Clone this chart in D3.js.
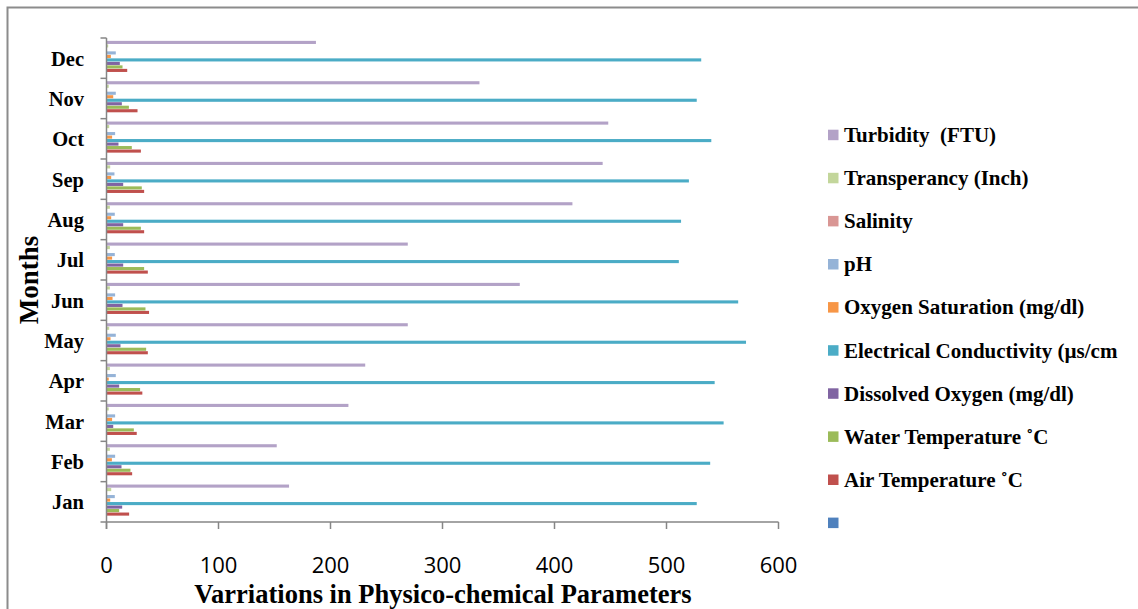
<!DOCTYPE html>
<html><head><meta charset="utf-8">
<script src="https://cdn.jsdelivr.net/npm/d3@7"></script>
<style>html,body{margin:0;padding:0;background:#fff;}svg{display:block;}text{white-space:pre;}</style>
</head><body>
<svg id="chart" width="1138" height="609"></svg>
<script>
const months = ["Jan","Feb","Mar","Apr","May","Jun","Jul","Aug","Sep","Oct","Nov","Dec"];
const seriesNames = ["", "Air Temperature \u02daC", "Water Temperature \u02daC", "Dissolved Oxygen (mg/dl)", "Electrical Conductivity (\u00b5s/cm", "Oxygen Saturation (mg/dl)", "pH", "Salinity", "Transperancy (Inch)", "Turbidity  (FTU)"];
const seriesColors = ["#4F81BD","#C0504D","#9BBB59","#8064A2","#4BACC6","#F79646","#95B3D7","#D99694","#C3D69B","#B3A2C7"];
const blankSeries      = [0,0,0,0,0,0,0,0,0,0,0,0];
const airTemp          = [20.2,22.9,27,32,36.9,38,36.9,33.6,33.6,30.7,27.7,18.5];
const waterTemp        = [11.3,21.4,24.4,30,35.4,34.8,33.6,30.7,31.5,22.6,20,14.3];
const dissolvedOxygen  = [14,13.4,6,11.3,12.5,14.3,14.9,14.9,14.9,10.7,13.7,11.9];
const conductivity     = [527,539,551,543,571,564,511,513,520,540,527,531];
const oxygenSaturation = [3.3,4.8,5,2,3.6,5.4,5,4.2,4.2,5,6,3.9];
const pH               = [7.4,7.7,7.7,8.3,8.3,7.7,7.4,7.4,7.1,7.7,8.3,8.3];
const salinity         = [0.2,0.2,0.2,0.2,0.2,0.2,0.2,0.2,0.2,0.2,0.2,0.2];
const transparency     = [4.2,3,2,3,2.4,3,3,3,3.3,2.4,2,1.5];
const turbidity        = [163,152,216,231,269,369,269,416,443,448,333,187];
const xTicks = [0,100,200,300,400,500,600];

const seriesValues = [blankSeries, airTemp, waterTemp, dissolvedOxygen, conductivity, oxygenSaturation, pH, salinity, transparency, turbidity];

const svg = d3.select("#chart");
const axisColor = "#868686";
const serif = "'Liberation Serif','Times New Roman',serif";

// outer frame
svg.append("rect").attr("x",7.5).attr("y",7.5).attr("width",1200).attr("height",700)
  .attr("fill","none").attr("stroke","#8c8c8c").attr("stroke-width",2);

const plotLeft = 106.5, plotRight = 778.5, plotTop = 38, plotBottom = 522;
const x = d3.scaleLinear().domain([0,600]).range([plotLeft,plotRight]);
const y = d3.scaleBand().domain(months.slice().reverse()).range([plotTop,plotBottom]).padding(0);
const bw = y.bandwidth();
const gap = bw*0.1325;
const inner = d3.scaleBand().domain(d3.range(10).reverse()).range([gap/2, bw-gap/2]).padding(0);

// bars
const g = svg.append("g");
months.forEach((m,mi)=>{
  seriesValues.forEach((vals,si)=>{
    g.append("rect")
      .attr("x", x(0))
      .attr("y", y(m)+inner(si)+0.2)
      .attr("width", Math.max(0, x(vals[mi])-x(0)))
      .attr("height", inner.bandwidth()-0.4)
      .attr("fill", seriesColors[si]);
  });
});

// y axis
const yAxisG = svg.append("g");
yAxisG.append("line").attr("x1",plotLeft).attr("x2",plotLeft).attr("y1",plotTop).attr("y2",plotBottom+7)
  .attr("stroke",axisColor).attr("stroke-width",1.5);
const boundaries = months.slice().reverse().map(m=>y(m)).concat([plotBottom]);
boundaries.forEach(b=>{
  yAxisG.append("line").attr("x1",plotLeft-6).attr("x2",plotLeft).attr("y1",b).attr("y2",b)
    .attr("stroke",axisColor).attr("stroke-width",1.5);
});
months.forEach(m=>{
  yAxisG.append("text").attr("x",84).attr("y",y(m)+bw/2+7.5)
    .attr("text-anchor","end").attr("font-family",serif).attr("font-weight","bold")
    .attr("font-size",20.5).attr("fill","#000").text(m);
});

// x axis
const xAxisG = svg.append("g");
xAxisG.append("line").attr("x1",plotLeft).attr("x2",plotRight).attr("y1",plotBottom).attr("y2",plotBottom)
  .attr("stroke",axisColor).attr("stroke-width",1.5);
xTicks.forEach(t=>{
  xAxisG.append("line").attr("x1",x(t)).attr("x2",x(t)).attr("y1",plotBottom).attr("y2",plotBottom+7)
    .attr("stroke",axisColor).attr("stroke-width",1.5);
  xAxisG.append("text").attr("x",x(t)).attr("y",572.5).attr("text-anchor","middle")
    .attr("font-family","'Open Sans',sans-serif").attr("font-size",22).attr("fill","#000").text(t);
});

// axis titles
svg.append("text").attr("x",443).attr("y",603).attr("text-anchor","middle")
  .attr("font-family",serif).attr("font-weight","bold").attr("font-size",26.5)
  .text("Varriations in Physico-chemical Parameters");
svg.append("text").attr("transform","translate(38,280) rotate(-90)").attr("text-anchor","middle")
  .attr("font-family",serif).attr("font-weight","bold").attr("font-size",27)
  .text("Months");

// legend
const leg = svg.append("g");
const legOrder = d3.range(10).reverse();
legOrder.forEach((si,i)=>{
  const cy = 134.7 + i*43.1;
  leg.append("rect").attr("x",828).attr("y",cy-5).attr("width",10.5).attr("height",10.5).attr("fill",seriesColors[si]);
  leg.append("text").attr("x",844).attr("y",cy+7.3).attr("font-family",serif).attr("font-weight","bold")
    .attr("font-size",21).attr("fill","#000").text(seriesNames[si]);
});
</script>
</body></html>
